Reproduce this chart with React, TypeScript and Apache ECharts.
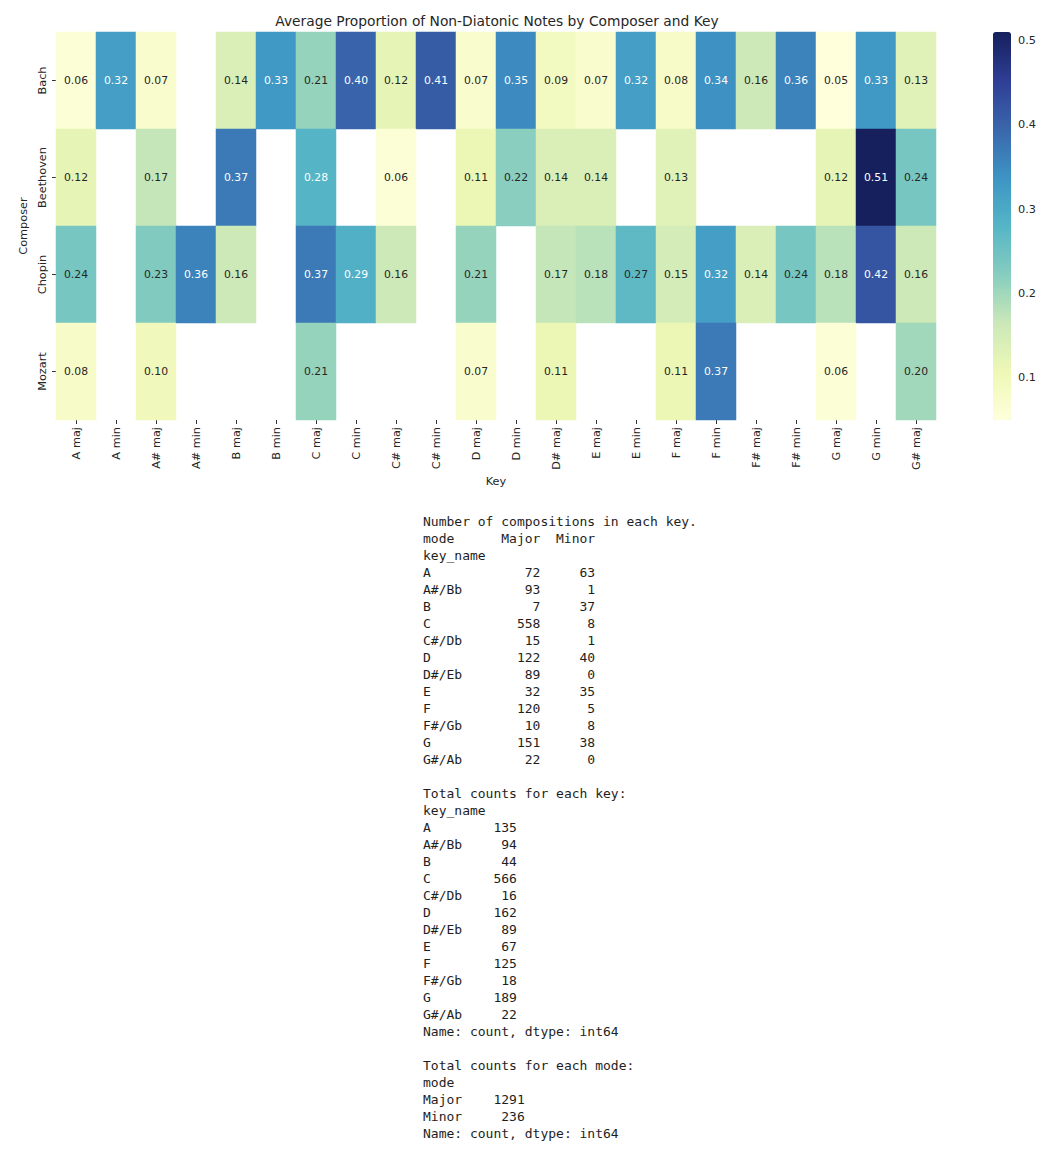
import React, { useEffect, useRef } from "react";
import * as echarts from "echarts";

const keys = ["A maj", "A min", "A# maj", "A# min", "B maj", "B min", "C maj", "C min", "C# maj", "C# min", "D maj", "D min", "D# maj", "E maj", "E min", "F maj", "F min", "F# maj", "F# min", "G maj", "G min", "G# maj"];
const composers = ["Bach", "Beethoven", "Chopin", "Mozart"];
const bach = [0.06, 0.32, 0.07, null, 0.14, 0.33, 0.21, 0.40, 0.12, 0.41, 0.07, 0.35, 0.09, 0.07, 0.32, 0.08, 0.34, 0.16, 0.36, 0.05, 0.33, 0.13];
const beethoven = [0.12, null, 0.17, null, 0.37, null, 0.28, null, 0.06, null, 0.11, 0.22, 0.14, 0.14, null, 0.13, null, null, null, 0.12, 0.51, 0.24];
const chopin = [0.24, null, 0.23, 0.36, 0.16, null, 0.37, 0.29, 0.16, null, 0.21, null, 0.17, 0.18, 0.27, 0.15, 0.32, 0.14, 0.24, 0.18, 0.42, 0.16];
const mozart = [0.08, null, 0.10, null, null, null, 0.21, null, null, null, 0.07, null, 0.11, null, null, 0.11, 0.37, null, null, 0.06, null, 0.20];
const composerValues = [bach, beethoven, chopin, mozart];

const colorMin = 0.05;
const colorMax = 0.51;
const colorbarTicks = [0.1, 0.2, 0.3, 0.4, 0.5];
const ylgnbu = ["#ffffdb", "#eef8b6", "#cbe8b8", "#86cdbf", "#55b5c6", "#3d94c4", "#3a66ac", "#2f3e95", "#15205c"];

const keyNames = ["A", "A#/Bb", "B", "C", "C#/Db", "D", "D#/Eb", "E", "F", "F#/Gb", "G", "G#/Ab"];
const majorCounts = [72, 93, 7, 558, 15, 122, 89, 32, 120, 10, 151, 22];
const minorCounts = [63, 1, 37, 8, 1, 40, 0, 35, 5, 8, 38, 0];
const keyTotals = [135, 94, 44, 566, 16, 162, 89, 67, 125, 18, 189, 22];
const modeNames = ["Major", "Minor"];
const modeTotals = [1291, 236];

const FONT = "DejaVu Sans";
const MONO = "DejaVu Sans Mono";
const TICK_FS = 11.3;

export default function App() {
  const ref = useRef<HTMLDivElement>(null);
  useEffect(() => {
    if (!ref.current) return;
    const chart = echarts.init(ref.current, null, { renderer: "svg" });

    const data: any[] = [];
    composerValues.forEach((row, yi) => {
      row.forEach((v, xi) => {
        if (v === null) return;
        data.push({
          value: [xi, yi, v],
          label: { color: v >= 0.275 ? "#ffffff" : "#262626" },
        });
      });
    });

    // text block
    const x0 = 423;
    const cw = 7.826;
    const y0 = 521;
    const lh = 17;
    const txt: any[] = [];
    const put = (s: string, col: number, line: number, align: "left" | "right" = "left") => {
      txt.push({
        type: "text",
        x: x0 + col * cw,
        y: y0 + line * lh,
        style: {
          text: s,
          font: `13px "${MONO}"`,
          fill: "#1e1e1e",
          align,
          verticalAlign: "middle",
        },
      });
    };
    let line = 0;
    put("Number of compositions in each key.", 0, line++);
    put("mode", 0, line);
    put("Major", 15, line, "right");
    put("Minor", 22, line++, "right");
    put("key_name", 0, line++);
    keyNames.forEach((k, i) => {
      put(k, 0, line);
      put(String(majorCounts[i]), 15, line, "right");
      put(String(minorCounts[i]), 22, line++, "right");
    });
    line++;
    put("Total counts for each key:", 0, line++);
    put("key_name", 0, line++);
    keyNames.forEach((k, i) => {
      put(k, 0, line);
      put(String(keyTotals[i]), 12, line++, "right");
    });
    put("Name: count, dtype: int64", 0, line++);
    line++;
    put("Total counts for each mode:", 0, line++);
    put("mode", 0, line++);
    modeNames.forEach((m, i) => {
      put(m, 0, line);
      put(String(modeTotals[i]), 13, line++, "right");
    });
    put("Name: count, dtype: int64", 0, line++);

    chart.setOption({
      animation: false,
      backgroundColor: "#ffffff",
      title: {
        text: "Average Proportion of Non-Diatonic Notes by Composer and Key",
        left: 492,
        top: 9,
        textAlign: "center",
        textStyle: { fontFamily: FONT, fontSize: 13.8, fontWeight: "normal", color: "#262626" },
      },
      grid: [
        { left: 56, top: 32, width: 880, height: 388 },
        { left: 993, top: 32, width: 18, height: 388 },
      ],
      xAxis: [
        {
          type: "category",
          data: keys,
          gridIndex: 0,
          name: "Key",
          nameLocation: "middle",
          nameGap: 56,
          nameTextStyle: { fontFamily: FONT, fontSize: TICK_FS, color: "#262626" },
          axisLine: { show: false },
          axisTick: { show: true, alignWithLabel: true, length: 4, lineStyle: { color: "#333333" } },
          axisLabel: { rotate: 90, margin: 7, fontFamily: FONT, fontSize: TICK_FS, color: "#262626", interval: 0 },
          splitLine: { show: false },
        },
        { type: "value", gridIndex: 1, show: false, min: 0, max: 1 },
      ],
      yAxis: [
        {
          type: "category",
          data: composers,
          inverse: true,
          gridIndex: 0,
          name: "Composer",
          nameLocation: "middle",
          nameGap: 22,
          nameRotate: 90,
          nameTextStyle: { fontFamily: FONT, fontSize: TICK_FS, color: "#262626" },
          axisLine: { show: false },
          axisTick: { show: true, alignWithLabel: true, length: 4, lineStyle: { color: "#333333" } },
          axisLabel: { rotate: 90, margin: 8, fontFamily: FONT, fontSize: TICK_FS, color: "#262626" },
          splitLine: { show: false },
        },
        {
          type: "value",
          gridIndex: 1,
          position: "right",
          min: colorMin,
          max: colorMax,
          axisLine: { show: false },
          splitLine: { show: false },
          axisTick: { show: true, length: 4, customValues: colorbarTicks, lineStyle: { color: "#333333" } },
          axisLabel: {
            customValues: colorbarTicks,
            margin: 7,
            fontFamily: FONT,
            fontSize: TICK_FS,
            color: "#262626",
            formatter: (v: number) => v.toFixed(1),
          },
        },
      ],
      visualMap: {
        type: "continuous",
        min: colorMin,
        max: colorMax,
        show: true,
        calculable: false,
        hoverLink: false,
        left: 993,
        top: 32,
        padding: 0,
        itemWidth: 18,
        itemHeight: 388,
        seriesIndex: 0,
        inRange: { color: ylgnbu },
        textStyle: { color: "transparent" },
      },
      series: [
        {
          type: "heatmap",
          xAxisIndex: 0,
          yAxisIndex: 0,
          data,
          label: { show: true, fontFamily: FONT, fontSize: 10.8, formatter: (p: any) => p.value[2].toFixed(2) },
          itemStyle: { borderWidth: 0 },
          emphasis: { disabled: true },
        },
      ],
      graphic: txt,
    });

    return () => chart.dispose();
  }, []);

  return <div ref={ref} style={{ position: "fixed", left: 0, top: 0, width: 1058, height: 1154 }} />;
}
